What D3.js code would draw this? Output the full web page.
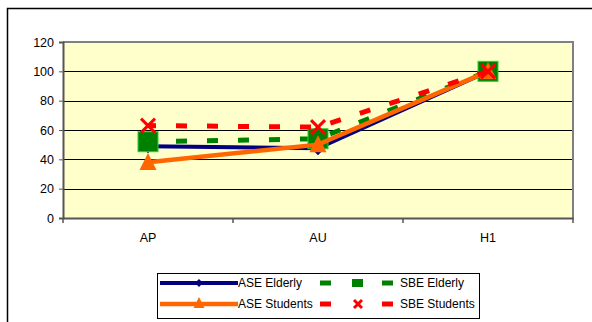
<!DOCTYPE html>
<html><head><meta charset="utf-8">
<script src="https://cdn.jsdelivr.net/npm/d3@7"></script>
<style>body{margin:0;background:#fff;}svg{display:block;font-family:"Liberation Sans",Arial,sans-serif;}</style>
</head><body><svg id="c" width="592" height="322"></svg>
<script>
const categories = ["AP","AU","H1"];
const yTicks = [0,20,40,60,80,100,120];
const aseElderly = [49,47.5,100];
const sbeElderly = [52,54,100];
const aseStudents = [38,50,100];
const sbeStudents = [63,62,100];
const seriesNames = ["ASE Elderly","SBE Elderly","ASE Students","SBE Students"];

const svg = d3.select("#c");
svg.append("rect").attr("x",7.5).attr("y",8.5).attr("width",600).attr("height",330)
  .attr("fill","#fff").attr("stroke","#000").attr("stroke-width",1.5);

const L=63,R=573,T=42,B=218;
const x = d3.scaleBand().domain(categories).range([L,R]);
const y = d3.scaleLinear().domain([0,120]).range([B,T]);
const cx = d => x(d)+x.bandwidth()/2;

svg.append("rect").attr("x",L).attr("y",T).attr("width",R-L).attr("height",B-T).attr("fill","#FFFFCC");
svg.append("g").selectAll("line").data(yTicks.filter(v=>v>0&&v<120)).join("line")
  .attr("x1",L).attr("x2",R).attr("y1",d=>Math.round(y(d))+0.5).attr("y2",d=>Math.round(y(d))+0.5)
  .attr("stroke","#000").attr("stroke-width",1);
svg.append("path").attr("d",`M${L},${T}H${R}V${B}`).attr("fill","none").attr("stroke","#808080").attr("stroke-width",2);

const yAxis = d3.axisLeft(y).tickValues(yTicks).tickSize(4).tickPadding(5);
const gy = svg.append("g").attr("transform",`translate(${L},0)`).call(yAxis);
gy.select(".domain").attr("stroke","#555").attr("stroke-width",2);
gy.selectAll(".tick line").attr("stroke","#555");
gy.selectAll("text").attr("font-size",12.5).attr("font-family","Liberation Sans, Arial, sans-serif").attr("fill","#000");

const xAxis = d3.axisBottom(x).tickSize(0).tickPadding(15);
const gx = svg.append("g").attr("transform",`translate(0,${B})`).call(xAxis);
gx.select(".domain").attr("stroke","#555").attr("stroke-width",2);
gx.selectAll("text").attr("font-size",12.5).attr("font-family","Liberation Sans, Arial, sans-serif").attr("fill","#000");
const bounds = categories.map(c=>x(c)).concat([R]);
svg.append("g").selectAll("line").data(bounds).join("line")
  .attr("x1",d=>d).attr("x2",d=>d).attr("y1",B).attr("y2",B+5).attr("stroke","#555").attr("stroke-width",1.5);

const line = d3.line().x((d,i)=>cx(categories[i])).y(d=>y(d));

function diamond(g,px,py,s){g.append("path").attr("d",`M${px},${py-s}L${px+s},${py}L${px},${py+s}L${px-s},${py}Z`).attr("fill","#000080");}
function square(g,px,py,s){g.append("rect").attr("x",px-s/2).attr("y",py-s/2).attr("width",s).attr("height",s).attr("fill","#008000").attr("stroke","#33CC33").attr("stroke-width",1);}
function tri(g,px,py,s){g.append("path").attr("d",`M${px},${py-s*0.55}L${px+s/2},${py+s*0.45}L${px-s/2},${py+s*0.45}Z`).attr("fill","#FF6600");}
function cross(g,px,py,s){g.append("path").attr("d",`M${px-s},${py-s}L${px+s},${py+s}M${px+s},${py-s}L${px-s},${py+s}`).attr("stroke","#FF0000").attr("stroke-width",3);}

const plot = svg.append("g");
plot.append("path").attr("d",line(aseElderly)).attr("fill","none").attr("stroke","#000080").attr("stroke-width",4);
aseElderly.forEach((v,i)=>diamond(plot,cx(categories[i]),y(v),7));
plot.append("path").attr("d",line(sbeElderly)).attr("fill","none").attr("stroke","#008000").attr("stroke-width",5).attr("stroke-dasharray","11,20").attr("stroke-dashoffset",3);
sbeElderly.forEach((v,i)=>square(plot,cx(categories[i]),y(v),20));
plot.append("path").attr("d",line(aseStudents)).attr("fill","none").attr("stroke","#FF6600").attr("stroke-width",4.5);
aseStudents.forEach((v,i)=>tri(plot,cx(categories[i]),y(v),17));
plot.append("path").attr("d",line(sbeStudents)).attr("fill","none").attr("stroke","#FF0000").attr("stroke-width",5).attr("stroke-dasharray","11,20").attr("stroke-dashoffset",3);
sbeStudents.forEach((v,i)=>cross(plot,cx(categories[i]),y(v),7));

const lg = svg.append("g");
lg.append("rect").attr("x",157.5).attr("y",273.5).attr("width",322).attr("height",45).attr("fill","#fff").attr("stroke","#000").attr("stroke-width",1);
const r1=283, r2=304;
lg.append("line").attr("x1",160).attr("x2",238).attr("y1",r1).attr("y2",r1).attr("stroke","#000080").attr("stroke-width",4);
diamond(lg,199,r1,4);
lg.append("line").attr("x1",160).attr("x2",238).attr("y1",r2).attr("y2",r2).attr("stroke","#FF6600").attr("stroke-width",4.5);
tri(lg,199,r2-1,11);
[[320,331],[382,393]].forEach(([a,b])=>{
  lg.append("line").attr("x1",a).attr("x2",b).attr("y1",r1).attr("y2",r1).attr("stroke","#008000").attr("stroke-width",5);
  lg.append("line").attr("x1",a).attr("x2",b).attr("y1",r2).attr("y2",r2).attr("stroke","#FF0000").attr("stroke-width",5);
});
lg.append("rect").attr("x",352).attr("y",r1-4).attr("width",11).attr("height",8).attr("fill","#008000");
cross(lg,358,r2,4);
const lt = [[238,r1,seriesNames[0]],[400,r1,seriesNames[1]],[238,r2,seriesNames[2]],[400,r2,seriesNames[3]]];
lg.selectAll("text.l").data(lt).join("text").attr("class","l").attr("x",d=>d[0]).attr("y",d=>d[1]+4)
  .attr("font-size",12).attr("fill","#000").text(d=>d[2]);
</script></body></html>
